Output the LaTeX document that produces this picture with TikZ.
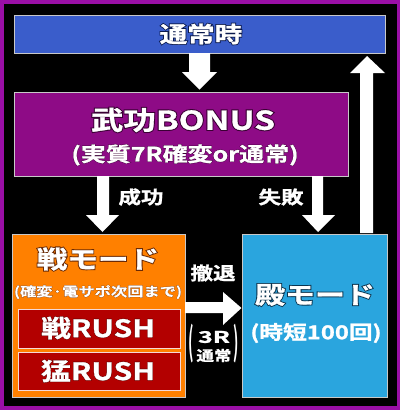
\documentclass[tikz,border=0pt]{standalone}
\usepackage{fontspec}
\usepackage{graphicx}
\setmainfont{Noto Sans CJK JP Bold}
\newfontfamily\jp[FakeStretch=1.25,FakeBold=1.2]{Noto Sans CJK JP Bold}
\newfontfamily\jpol[FakeStretch=1.25,FakeBold=9]{Noto Sans CJK JP Bold}
\newfontfamily\jpols[FakeStretch=1.25,FakeBold=5]{Noto Sans CJK JP Bold}
\newfontfamily\jpthin[FakeStretch=1.0]{Noto Sans CJK JP Bold}
\definecolor{outerpurple}{HTML}{9A0FA6}
\definecolor{topblue}{HTML}{3A5DCB}
\definecolor{bonuspurple}{HTML}{8E0B86}
\definecolor{senorange}{HTML}{FF8000}
\definecolor{rushred}{HTML}{B30000}
\definecolor{tonoblue}{HTML}{2AA5DE}
\definecolor{edgegray}{HTML}{C8C8C8}
\definecolor{navyol}{HTML}{0B1A4E}
\definecolor{purpleol}{HTML}{3A0034}
\definecolor{brownol}{HTML}{6B2A05}
\definecolor{tealol}{HTML}{0B3550}
% outlined text: #1 outline font, #2 outline colour, #3 text
\newcommand\oltext[3]{\makebox[0pt]{{#1\color{#2}#3}}\makebox[0pt]{#3}}
\tikzset{
  panel/.style={draw=edgegray, line width=1pt, inner sep=0pt},
  lbl/.style={text=white, font=\jp\fontsize{18}{18}\selectfont, inner sep=0pt},
  ttl/.style={text=white, inner sep=0pt},
}
\begin{document}
\begin{tikzpicture}[x=1pt,y=-1pt]
\useasboundingbox (0,0) rectangle (400,410);
\fill[outerpurple] (0,0) rectangle (400,410);
\fill[black] (3.5,3.5) rectangle (397,406);

% top box
\node[panel, fill=topblue, minimum width=371pt, minimum height=38pt, anchor=north west] (top) at (14,15) {};
\node[ttl, font=\jp\fontsize{22}{22}\selectfont] (toptxt) at (201,34) {\oltext{\jpol}{navyol}{通常時}};

% bonus box
\node[panel, fill=bonuspurple, minimum width=334pt, minimum height=84pt, anchor=north west] (bonus) at (14,92) {};
\node[ttl, font=\jp\fontsize{26}{26}\selectfont] (bonustxt) at (183,120) {\oltext{\jpol}{purpleol}{武功\scalebox{1.03}[1]{BONUS}}};
\node[ttl, font=\jp\fontsize{20}{20}\selectfont] (bonussub) at (185,155) {\oltext{\jpols}{purpleol}{(実質7R確変or通常)}};

% sen mode box
\node[panel, fill=senorange, minimum width=173pt, minimum height=163pt, anchor=north west] (sen) at (12,234) {};
\node[ttl, font=\jp\fontsize{24.5}{24.5}\selectfont] (sentxt) at (98,259) {\oltext{\jpol}{brownol}{戦モード}};
\node[ttl, font=\jp\fontsize{13}{13}\selectfont] (sensub) at (98,292) {\oltext{\jpols}{brownol}{(確変·電サポ次回まで)}};
\node[draw=white!85!rushred, line width=1pt, fill=rushred, minimum width=162pt, minimum height=39pt, anchor=north west] (rush1) at (17.5,308.5) {};
\node[ttl, font=\jp\fontsize{24}{24}\selectfont] (rush1txt) at (98,328) {\oltext{\jpols}{rushred!55!black}{戦RUSH}};
\node[draw=white!85!rushred, line width=1pt, fill=rushred, minimum width=162pt, minimum height=38pt, anchor=north west] (rush2) at (17.5,352) {};
\node[ttl, font=\jp\fontsize{24}{24}\selectfont] (rush2txt) at (98,371) {\oltext{\jpols}{rushred!55!black}{猛RUSH}};

% tono mode box
\node[panel, fill=tonoblue, minimum width=145pt, minimum height=163pt, anchor=north west] (tono) at (242,234) {};
\node[ttl, font=\jp\fontsize{24}{24}\selectfont] (tonotxt) at (315,295) {\oltext{\jpol}{tealol}{殿モード}};
\node[ttl, font=\jp\fontsize{19}{19}\selectfont] (tonosub) at (316,333) {(時短100回)};

% arrows
\fill[white] (189,53) -- (210,53) -- (210,72) -- (217,72) -- (199.5,89.5) -- (182,72) -- (189,72) -- cycle;
\fill[white] (97,176) -- (109,176) -- (109,215) -- (119,215) -- (102.5,232) -- (86,215) -- (97,215) -- cycle;
\fill[white] (312,176) -- (323,176) -- (323,215) -- (335,215) -- (318,232) -- (302,215) -- (312,215) -- cycle;
\fill[white] (360,233) -- (373,233) -- (373,73) -- (385,73) -- (367,56) -- (350,73) -- (360,73) -- cycle;
\fill[white] (185,302) -- (223,302) -- (223,292) -- (241.5,308) -- (223,325) -- (223,313) -- (185,313) -- cycle;

\node[lbl] (seiko) at (141,197) {成功};
\node[lbl] (shippai) at (281,197) {失敗};
\node[lbl] (tettai) at (213,273) {撤退};
\node[text=white, font=\jp\fontsize{16}{16}\selectfont, inner sep=0pt] (sanr) at (214,337) {\scalebox{1.25}[1]{3R}};
\node[text=white, font=\jp\fontsize{14}{14}\selectfont, inner sep=0pt] (tsujo) at (214,355.5) {通常};
\node[text=white, font=\jpthin\fontsize{26}{26}\selectfont, inner sep=0pt] (lp) at (191,344) {\scalebox{0.55}[1.45]{(}};
\node[text=white, font=\jpthin\fontsize{26}{26}\selectfont, inner sep=0pt] (rp) at (236.5,344) {\scalebox{0.55}[1.45]{)}};
\end{tikzpicture}
\end{document}
